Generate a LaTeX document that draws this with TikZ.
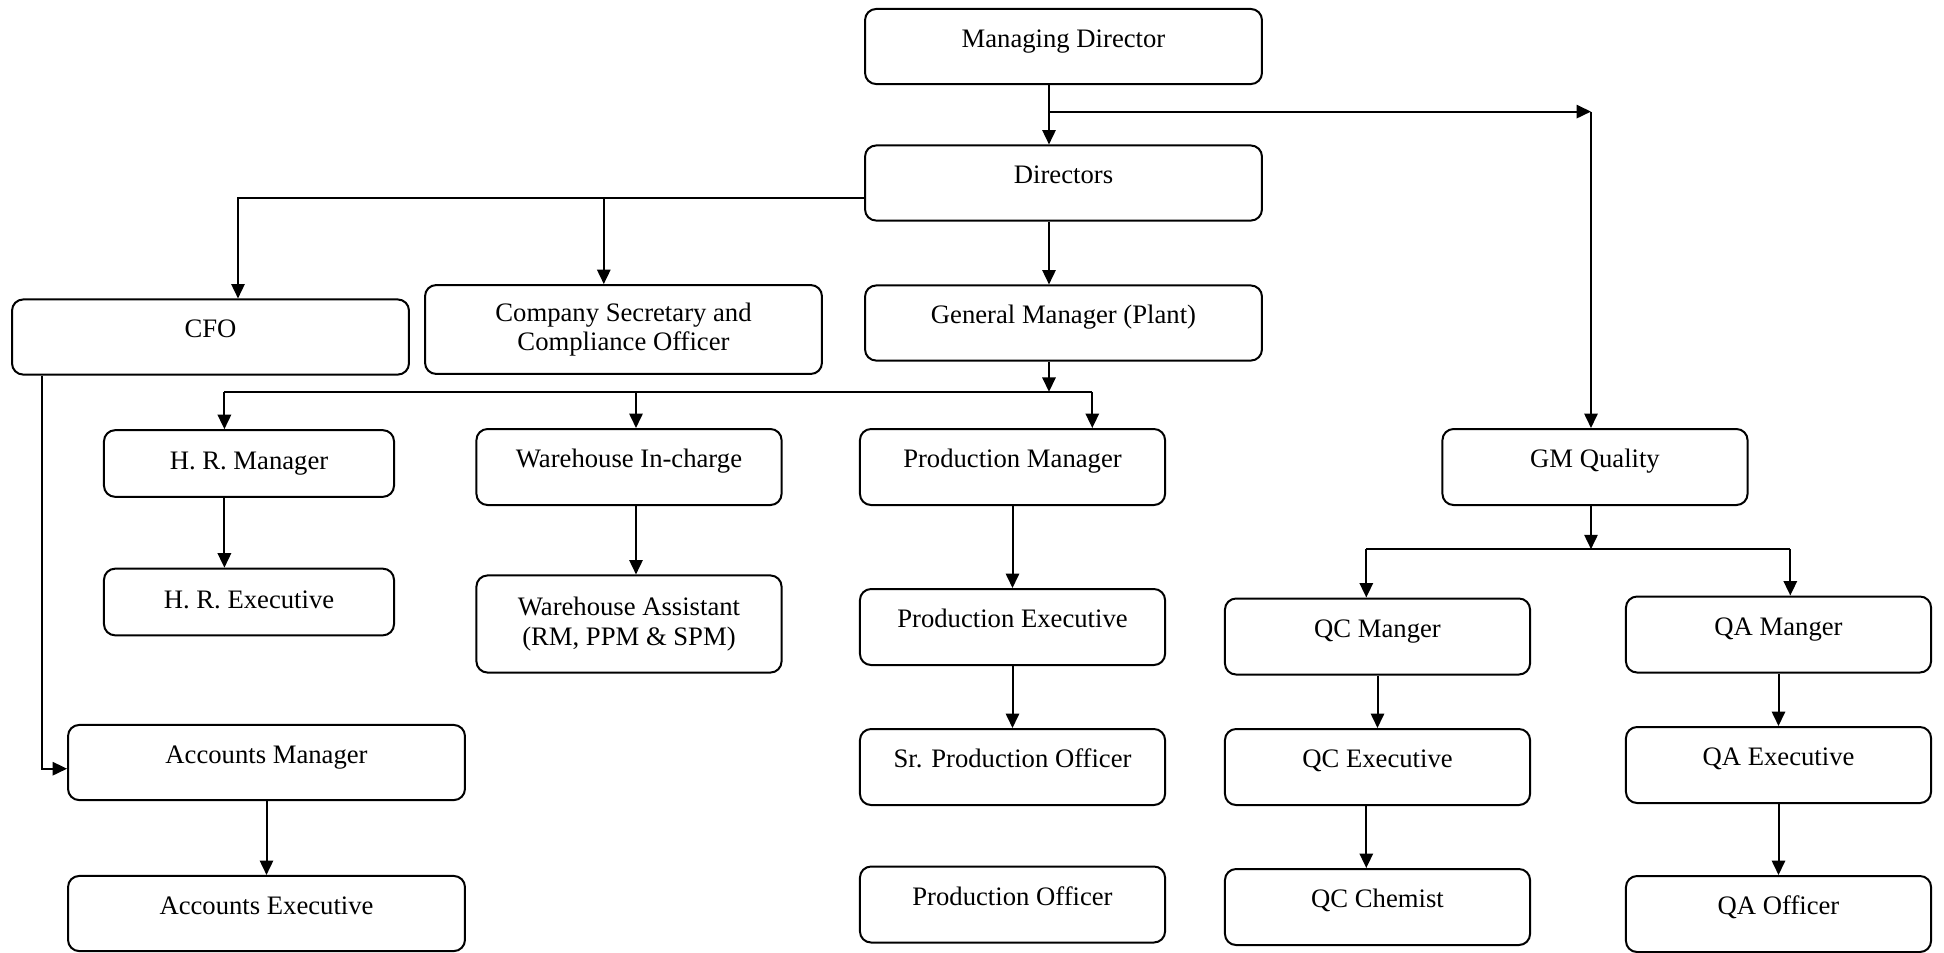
\documentclass[tikz,border=0pt]{standalone}
\usepackage{fontspec}
\setmainfont{Liberation Serif}
\usepackage{tikz}
\usetikzlibrary{arrows.meta, positioning}

\tikzset{
  post/.style={draw, rounded corners=5pt, line width=0.9pt, inner sep=0pt, align=center,
    font=\fontsize{12}{13.4}\selectfont, text height=8pt, text depth=7.2pt},
  wide/.style={post, minimum width=178.6pt, minimum height=33.8pt},
  mid/.style={post, minimum width=137.3pt, minimum height=34.2pt},
  small/.style={post, minimum width=130.5pt, minimum height=30pt, text depth=2.4pt},
  twoline/.style={text height={}, text depth={}},
}

\begin{document}
\begin{tikzpicture}[x=0.45pt, y=-0.45pt, >={Triangle[length=6.5pt,width=6pt]}, line width=0.9pt]
        \useasboundingbox (0,0) rectangle (1944,952);
        \node[wide] (md) at (1063.5,46.5) {Managing Director};
        \node[wide] (dir) at (1063.5,183) {Directors};
        \node[wide] (cfo) at (210.5,337) {CFO};
        \node[wide, twoline, minimum height=40pt] (cs) at (623.5,329.5) {Company Secretary and\\Compliance Officer};
        \node[wide] (gmp) at (1063.5,323) {General Manager (Plant)};
        \node[small] (hrm) at (249,463.5) {H. R. Manager};
        \node[mid] (whi) at (629,467) {Warehouse In-charge};
        \node[mid] (pm) at (1012.5,467) {Production Manager};
        \node[mid] (gmq) at (1595,467) {GM Quality};
        \node[small] (hre) at (249,602) {H. R. Executive};
        \node[mid, twoline, minimum height=43.7pt] (wha) at (629,624) {Warehouse Assistant\\(RM, PPM \& SPM)};
        \node[mid] (pe) at (1012.5,627) {Production Executive};
        \node[mid] (qcm) at (1377.5,636.5) {QC Manger};
        \node[mid] (qam) at (1778.5,634.5) {QA Manger};
        \node[wide] (am) at (266.5,762.5) {Accounts Manager};
        \node[mid] (spo) at (1012.5,767) {Sr. Production Officer};
        \node[mid] (qce) at (1377.5,767) {QC Executive};
        \node[mid] (qae) at (1778.5,765) {QA Executive};
        \node[wide] (ae) at (266.5,913.5) {Accounts Executive};
        \node[mid] (po) at (1012.5,904.5) {Production Officer};
        \node[mid] (qch) at (1377.5,907) {QC Chemist};
        \node[mid] (qao) at (1778.5,914) {QA Officer};

        \coordinate (mdsplit) at (1049,111.6);
        \coordinate (qturn) at (1591,111.6);
        \coordinate (dleft) at (238,198.4);
        \coordinate (csx) at (603.8,198.4);
        \coordinate (pbus) at (1049,391.8);
        \coordinate (hrx) at (224.4,391.8);
        \coordinate (whx) at (636,391.8);
        \coordinate (prx) at (1092.3,391.8);
        \coordinate (cfox) at (42,768.7);
        \coordinate (qbus) at (1591,549.2);
        \coordinate (qcx) at (1366.3,549.2);
        \coordinate (qax) at (1790.3,549.2);

        \draw[->] (mdsplit) -- (qturn);
        \draw[->] (qturn) -- (gmq.north -| qturn);
        \draw[->] (dir.west |- dleft) -- (dleft) -- (cfo.north -| dleft);
        \draw[->] (gmp.south -| pbus) -- (pbus);
        \draw (hrx) -- (prx);
        \draw[->] (cfo.south -| cfox) -- (cfox) -- (am.west |- cfox);
        \draw[->] (gmq.south -| qbus) -- (qbus);
        \draw (qcx) -- (qax);
        \path[->]
        (md.south -| mdsplit) edge (dir.north -| mdsplit)
        (csx) edge (cs.north -| csx)
        (dir.south -| mdsplit) edge (gmp.north -| mdsplit)
        (hrx) edge (hrm.north -| hrx)
        (whx) edge (whi.north -| whx)
        (prx) edge (pm.north -| prx)
        (hrm.south -| hrx) edge (hre.north -| hrx)
        (whi.south -| whx) edge (wha.north -| whx)
        (pm) edge (pe)
        (pe) edge (spo)
        (am) edge (ae)
        (qcx) edge (qcm.north -| qcx)
        (qax) edge (qam.north -| qax)
        (qcm) edge (qce)
        (qce.south -| qcx) edge (qch.north -| qcx)
        (qam) edge (qae)
        (qae) edge (qao)
        ;
    \end{tikzpicture}
\end{document}
